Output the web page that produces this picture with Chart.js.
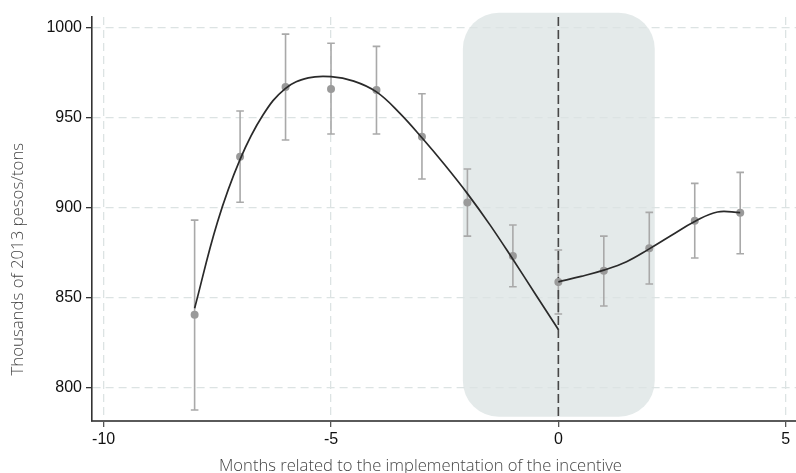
<!DOCTYPE html>
<html>
<head>
<meta charset="utf-8">
<script src="https://cdn.jsdelivr.net/npm/chart.js@4.4.1/dist/chart.umd.min.js"></script>
<style>
  html, body { margin: 0; padding: 0; background: #fff; }
  canvas { display: block; }
</style>
</head>
<body>
<canvas id="chart" width="796" height="473"></canvas>
<script>
// Monthly average price around the start of the incentive, with 95% confidence bounds
const months    = [-8, -7, -6, -5, -4, -3, -2, -1, 0, 1, 2, 3, 4];
const meanPrice = [840.7, 928.5, 967.2, 966.1, 965.6, 939.6, 903.0, 873.3, 858.9, 865.2, 877.6, 892.9, 897.4];
const ciLow     = [787.8, 903.2, 937.8, 941.1, 941.1, 916.1, 884.4, 856.3, 841.1, 845.6, 857.8, 872.2, 874.6];
const ciHigh    = [893.3, 953.9, 996.6, 991.5, 989.8, 963.5, 921.7, 890.6, 876.7, 884.4, 897.6, 913.7, 919.8];

// Smoothed fit, before and after the start month
const fitBeforeX = [-8, -7.5, -7, -6.5, -6, -5.5, -5, -4.5, -4, -3.5, -3, -2.5, -2, -1.5, -1, -0.5, 0];
const fitBeforeY = [844.3, 892, 927, 951.5, 966.5, 972.3, 973, 970.5, 964.5, 953, 939, 924, 908, 890.5, 871.5, 852, 832.5];
const fitAfterX  = [0, 0.5, 1, 1.5, 2, 2.5, 3, 3.5, 4];
const fitAfterY  = [859, 862, 865.5, 870.2, 877.3, 885, 892.5, 897.8, 897.4];

// Axis ticks
const xTicks = [-10, -5, 0, 5];
const yTicks = [800, 850, 900, 950, 1000];

// Start of the incentive and the transition window around it
const startMonth    = 0;
const windowMonths  = [-2.1, 2.12];
const windowPrices  = [784, 1008.5];

const xTitle = 'Months related to the implementation of the incentive';
const yTitle = 'Thousands of 2013 pesos/tons';

const toXY = (xs, ys) => xs.map((x, i) => ({ x: x, y: ys[i] }));

// Rounded shaded window, drawn beneath the grid
const windowShade = {
  id: 'windowShade',
  beforeDraw(chart) {
    const { ctx, scales: { x, y } } = chart;
    ctx.save();
    ctx.fillStyle = '#ffffff';
    ctx.fillRect(0, 0, chart.width, chart.height);
    const x0 = x.getPixelForValue(windowMonths[0]);
    const x1 = x.getPixelForValue(windowMonths[1]);
    const y0 = y.getPixelForValue(windowPrices[1]);
    const y1 = y.getPixelForValue(windowPrices[0]);
    ctx.fillStyle = '#e4eaea';
    ctx.beginPath();
    ctx.roundRect(x0, y0, x1 - x0, y1 - y0, 36);
    ctx.fill();
    ctx.restore();
  }
};

// Confidence-interval whiskers and the dashed start-month line
const whiskers = {
  id: 'whiskers',
  beforeDatasetsDraw(chart) {
    const { ctx, chartArea, scales: { x, y } } = chart;
    ctx.save();
    ctx.strokeStyle = '#a9a9a9';
    ctx.lineWidth = 1.6;
    const cap = 3.8;
    months.forEach((m, i) => {
      const px = x.getPixelForValue(m);
      const lo = y.getPixelForValue(ciLow[i]);
      const hi = y.getPixelForValue(ciHigh[i]);
      ctx.beginPath();
      ctx.moveTo(px, lo); ctx.lineTo(px, hi);
      ctx.moveTo(px - cap, lo); ctx.lineTo(px + cap, lo);
      ctx.moveTo(px - cap, hi); ctx.lineTo(px + cap, hi);
      ctx.stroke();
    });
    const sx = x.getPixelForValue(startMonth);
    ctx.strokeStyle = '#474747';
    ctx.lineWidth = 1.6;
    ctx.setLineDash([9, 4]);
    ctx.beginPath();
    ctx.moveTo(sx, chartArea.top);
    ctx.lineTo(sx, chartArea.bottom);
    ctx.stroke();
    ctx.restore();
  }
};

// Axis titles
const axisTitles = {
  id: 'axisTitles',
  afterDraw(chart) {
    const { ctx } = chart;
    ctx.save();
    ctx.fillStyle = '#444';
    ctx.textAlign = 'center';
    ctx.textBaseline = 'alphabetic';
    ctx.font = '300 16.6px "Open Sans"';
    ctx.fillText(xTitle, 420.5, 470.5);
    ctx.translate(23.3, 259.2);
    ctx.rotate(-Math.PI / 2);
    ctx.font = '300 16.8px "Open Sans"';
    ctx.fillText(yTitle, 0, 0);
    ctx.restore();
  }
};

const tickFont = { family: '"Liberation Sans", Arial, sans-serif', size: 16 };

new Chart(document.getElementById('chart'), {
  type: 'scatter',
  data: {
    datasets: [
      {
        type: 'line',
        data: toXY(fitBeforeX, fitBeforeY),
        borderColor: '#2a2a2a',
        borderWidth: 1.7,
        pointRadius: 0,
        tension: 0.4,
        fill: false
      },
      {
        type: 'line',
        data: toXY(fitAfterX, fitAfterY),
        borderColor: '#2a2a2a',
        borderWidth: 1.7,
        pointRadius: 0,
        tension: 0.4,
        fill: false
      },
      {
        type: 'scatter',
        data: toXY(months, meanPrice),
        pointRadius: 4,
        pointBackgroundColor: '#9a9a9a',
        pointBorderWidth: 0
      }
    ]
  },
  options: {
    responsive: false,
    animation: false,
    devicePixelRatio: 1,
    layout: { autoPadding: false, padding: { top: 17, right: 0, bottom: 0, left: 0 } },
    plugins: { legend: { display: false }, tooltip: { enabled: false } },
    scales: {
      x: {
        type: 'linear',
        min: -10.257,
        max: 5.227,
        afterBuildTicks: (axis) => { axis.ticks = xTicks.map(v => ({ value: v })); },
        afterFit: (axis) => { axis.height = 52; axis.paddingLeft = 0; axis.paddingRight = 0; },
        grid: {
          color: '#dce3e3', lineWidth: 1.3,
          tickColor: '#555', tickLength: 6, tickWidth: 1.3, tickBorderDash: []
        },
        border: { display: true, color: '#5a5a5a', width: 2, dash: [8, 5] },
        ticks: { color: '#111', font: tickFont, padding: 3, maxRotation: 0, autoSkip: false }
      },
      y: {
        type: 'linear',
        min: 781.7,
        max: 1006.1,
        afterBuildTicks: (axis) => { axis.ticks = yTicks.map(v => ({ value: v })); },
        afterFit: (axis) => { axis.width = 92; axis.paddingTop = 0; axis.paddingBottom = 0; },
        grid: {
          color: '#dce3e3', lineWidth: 1.3,
          tickColor: '#333', tickLength: 6, tickWidth: 1.3, tickBorderDash: []
        },
        border: { display: true, color: '#333', width: 1.6, dash: [8, 5] },
        ticks: { color: '#111', font: tickFont, padding: 4, autoSkip: false, callback: (v) => String(v) }
      }
    }
  },
  plugins: [windowShade, whiskers, axisTitles]
});
</script>
</body>
</html>
